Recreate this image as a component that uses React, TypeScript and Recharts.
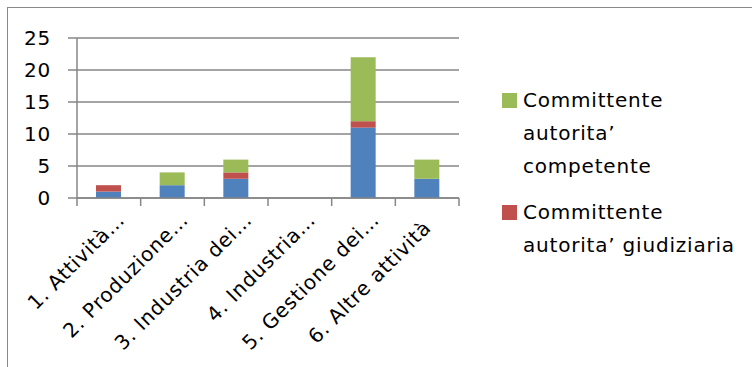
import React from 'react';
import { BarChart, Bar, XAxis, YAxis, CartesianGrid, Legend } from 'recharts';

const categories = [
  '1. Attività…',
  '2. Produzione…',
  '3. Industria dei…',
  '4. Industria…',
  '5. Gestione dei…',
  '6. Altre attività',
];
const privato = [1, 2, 3, 0, 11, 3];
const giudiziaria = [1, 0, 1, 0, 1, 0];
const competente = [0, 2, 2, 0, 10, 3];
const yTicks = [0, 5, 10, 15, 20, 25];

const data = categories.map((name, i) => ({
  name,
  privato: privato[i],
  giudiziaria: giudiziaria[i],
  competente: competente[i],
}));

const FONT = '"DejaVu Sans", sans-serif';
const GRID = '#868686';

function CategoryTick(props: any) {
  const { x, y, payload, index } = props;
  const half = payload.offset ?? 31.8;
  const left = x - half;
  const truncated = String(payload.value).endsWith('…');
  const dx = truncated ? 17 : 5;
  const dy = truncated ? 23 : 31;
  return (
    <g>
      <line x1={left} y1={y} x2={left} y2={y + 8} stroke={GRID} strokeWidth={1.5} />
      {index === categories.length - 1 && (
        <line x1={x + half} y1={y} x2={x + half} y2={y + 8} stroke={GRID} strokeWidth={1.5} />
      )}
      <text
        x={x + dx}
        y={y + dy}
        textAnchor="end"
        transform={`rotate(-45, ${x + dx}, ${y + dy})`}
        fill="#000"
        fontSize={20}
        letterSpacing={0.8}
        fontFamily={FONT}
      >
        {payload.value}
      </text>
    </g>
  );
}

function LegendBox(props: any) {
  const items = (props.payload || []).filter((p: any) => p.type !== 'none');
  items.sort((a: any, b: any) => (a.dataKey === 'competente' ? -1 : b.dataKey === 'competente' ? 1 : 0));
  return (
    <div style={{ fontFamily: FONT, fontSize: 20, letterSpacing: 0.8, lineHeight: '33px', color: '#000' }}>
      {items.map((it: any) => (
        <div key={it.value} style={{ display: 'flex', alignItems: 'flex-start', marginBottom: 13 }}>
          <div style={{ width: 15, height: 15, background: it.color, marginTop: 9, marginRight: 6, flexShrink: 0 }} />
          <div style={{ width: 222 }}>{it.value}</div>
        </div>
      ))}
    </div>
  );
}

export default function App() {
  return (
    <div style={{ position: 'absolute', left: 0, top: 0, width: 752, height: 367, overflow: 'hidden', background: '#fff' }}>
      <div
        style={{
          position: 'absolute',
          left: 7,
          top: 7,
          width: 800,
          height: 400,
          borderTop: '1.5px solid #8a8a8a',
          borderLeft: '1.5px solid #8a8a8a',
        }}
      />
      <BarChart
        width={752}
        height={367}
        data={data}
        margin={{ top: 38, right: 293, bottom: 139, left: 0 }}
        barSize={25}
      >
        <CartesianGrid vertical={false} stroke={GRID} strokeWidth={1.5} />
        <XAxis
          dataKey="name"
          height={30}
          interval={0}
          tickSize={0}
          tickMargin={0}
          tickLine={false}
          axisLine={{ stroke: GRID, strokeWidth: 1.5 }}
          tick={<CategoryTick />}
        />
        <YAxis
          width={77}
          domain={[0, 25]}
          ticks={yTicks}
          interval={0}
          tickSize={9}
          tickMargin={17}
          axisLine={{ stroke: GRID, strokeWidth: 1.5 }}
          tickLine={{ stroke: GRID, strokeWidth: 1.5 }}
          tick={{ fill: '#000', fontSize: 20, fontFamily: FONT, letterSpacing: 0.8 }}
        />
        <Bar dataKey="privato" name="Committente privato" stackId="a" fill="#4F81BD" legendType="none" isAnimationActive={false} />
        <Bar dataKey="giudiziaria" name="Committente autorita’ giudiziaria" stackId="a" fill="#C0504D" isAnimationActive={false} />
        <Bar dataKey="competente" name="Committente autorita’ competente" stackId="a" fill="#9BBB59" isAnimationActive={false} />
        <Legend
          layout="vertical"
          align="center"
          verticalAlign="middle"
          content={<LegendBox />}
          wrapperStyle={{ position: 'absolute', left: 502, top: 84, width: 245 }}
        />
      </BarChart>
    </div>
  );
}
